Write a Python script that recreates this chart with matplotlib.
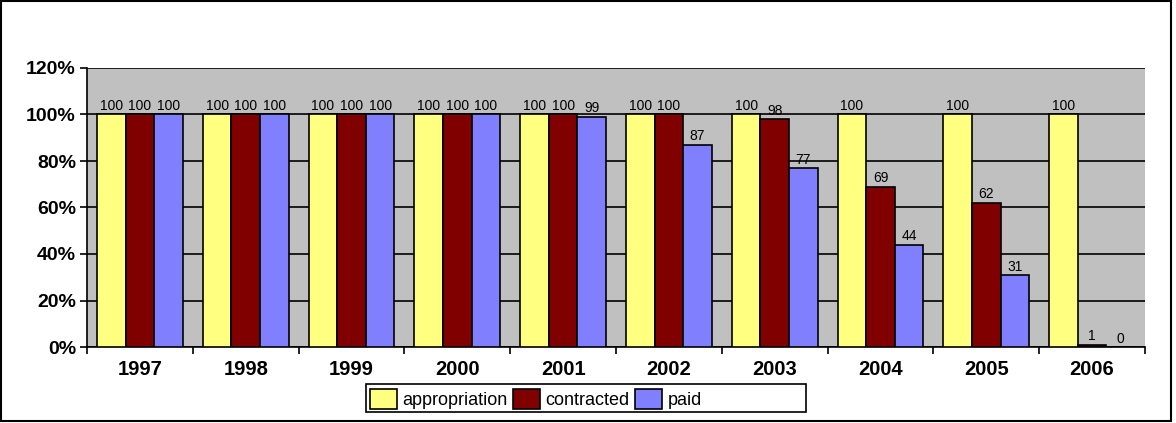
import numpy as np
import matplotlib.pyplot as plt
from matplotlib.patches import Rectangle

plt.rcParams['font.family'] = ['Liberation Sans', 'DejaVu Sans']

years = ["1997", "1998", "1999", "2000", "2001", "2002", "2003", "2004", "2005", "2006"]
appropriation = [100, 100, 100, 100, 100, 100, 100, 100, 100, 100]
contracted = [100, 100, 100, 100, 100, 100, 98, 69, 62, 1]
paid = [100, 100, 100, 100, 99, 87, 77, 44, 31, 0]

series = [("appropriation", appropriation, "#FFFF80"),
          ("contracted", contracted, "#800000"),
          ("paid", paid, "#8080FF")]

fig = plt.figure(figsize=(11.76, 4.23), dpi=100)
ax = fig.add_axes([87 / 1176, 76 / 423, 1058 / 1176, 279 / 423])
ax.set_facecolor("#C0C0C0")

x = np.arange(len(years))
w = 0.27
for k, (name, vals, col) in enumerate(series):
    bars = ax.bar(x + (k - 1) * w, vals, w, color=col, edgecolor="black",
                  linewidth=1.2, label=name, zorder=3)
    ax.bar_label(bars, labels=[str(v) for v in vals], padding=1, fontsize=10)

ax.set_xlim(-0.5, len(years) - 0.5)
ax.set_ylim(0, 120)
ax.set_yticks(np.arange(0, 121, 20))
ax.set_yticklabels(["%d%%" % v for v in range(0, 121, 20)], fontsize=14, fontweight="bold")
ax.set_xticks(x)
ax.set_xticklabels(years, fontsize=14.5, fontweight="bold")
ax.tick_params(axis="x", which="major", length=0, pad=9)
ax.set_xticks(np.arange(-0.5, len(years), 1), minor=True)
ax.tick_params(axis="x", which="minor", length=5, width=1.2, direction="out")
ax.tick_params(axis="y", length=5, width=1.2, direction="out", pad=3)
ax.grid(axis="y", color="black", linewidth=1.2, zorder=1)
ax.set_axisbelow(True)
for s in ["top", "right"]:
    ax.spines[s].set_visible(False)
for s in ["left", "bottom"]:
    ax.spines[s].set_linewidth(1.2)

# legend box drawn separately, legend entries inside it
fig.patches.append(Rectangle((366 / 1176, 11 / 423), 440 / 1176, 28 / 423,
                             transform=fig.transFigure, facecolor="white",
                             edgecolor="black", linewidth=1.2, zorder=0))
leg = fig.legend(loc="lower left", bbox_to_anchor=(368 / 1176, 12 / 423),
                 ncol=3, fontsize=13, frameon=False,
                 handlelength=1.5, handleheight=1.3, handletextpad=0.3,
                 borderpad=0.1, borderaxespad=0, columnspacing=0.3)

fig.patches.append(Rectangle((0.001, 0.005), 0.995, 0.993, transform=fig.transFigure,
                             fill=False, edgecolor="black", linewidth=1.5))

fig.savefig("out.png", dpi=100)
